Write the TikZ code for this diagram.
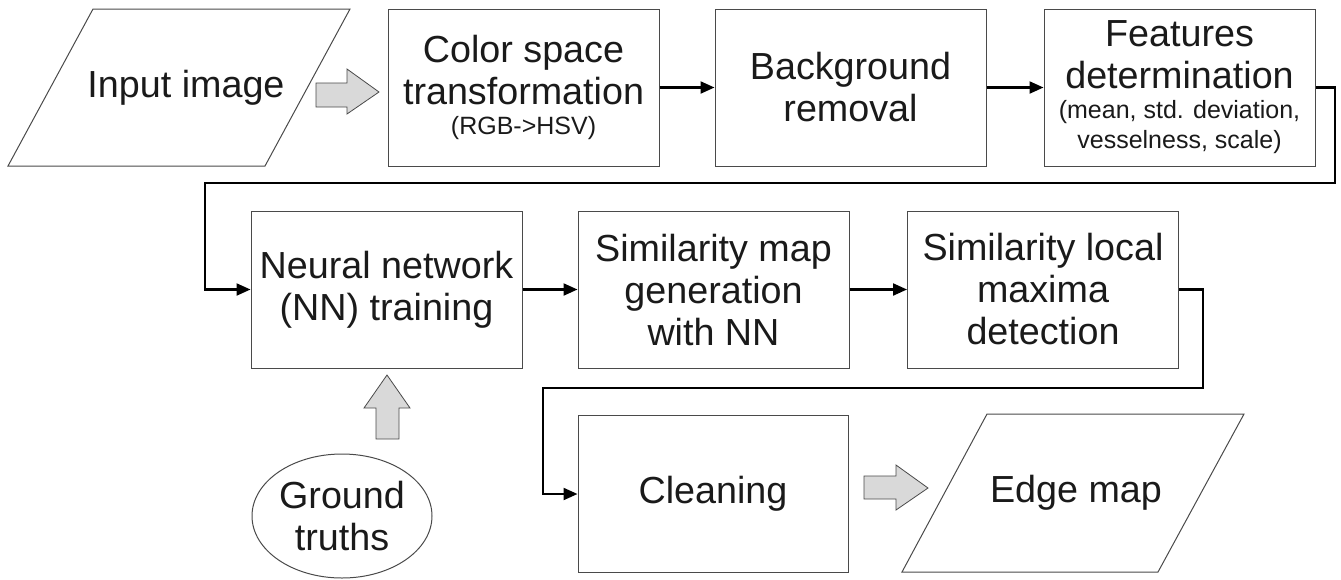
\documentclass[tikz,border=0pt]{standalone}
\usepackage{fontspec}
\setmainfont{Liberation Sans}
\usetikzlibrary{arrows.meta,shapes.geometric}
\definecolor{boxline}{HTML}{4A4A4A}
\definecolor{txt}{HTML}{1A1A1A}
\definecolor{blockfill}{HTML}{D9D9D9}
\begin{document}
\begin{tikzpicture}[x=1pt,y=-1pt,
  bigtext/.style={font=\fontsize{37.7}{42}\selectfont, text=txt, align=center},
  procbox/.style={bigtext, draw=boxline, line width=1pt, minimum width=271pt, minimum height=157pt, inner sep=0pt},
  conn/.style={draw=black, line width=2.2pt, -{Triangle[length=14pt,width=12pt]}},
  blockarrow/.style={draw=boxline, fill=blockfill, line width=0.8pt, line join=miter}]
\useasboundingbox (0,0) rectangle (1341,579);
% input parallelogram
\draw[draw=boxline, line width=1pt] (93,9) -- (350,9) -- (265,166) -- (8,166) -- cycle;
\node[bigtext] (in) at (186,87.5) {Input image};
% row 1
\node[procbox] (b1) at (523.5,87.5) {Color space\\transformation\\[-12pt]{\fontsize{25}{30}\selectfont (RGB->HSV)}};
\node[procbox] (b2) at (850.5,87.5) {Background\\removal};
\node[procbox] (b3) at (1179.5,87.5) {Features\\determination\\[-12pt]{\fontsize{25}{30}\selectfont (mean, std. deviation,}\\[-12pt]{\fontsize{25}{30}\selectfont vesselness, scale)}};
% row 2
\node[procbox] (b4) at (386.5,289.5) {Neural network\\(NN) training};
\node[procbox] (b5) at (713.5,289.5) {Similarity map\\generation\\with NN};
\node[procbox] (b6) at (1043,289.5) {Similarity local\\maxima\\detection};
% row 3
\node[procbox, minimum width=270pt] (b7) at (713,494) {Cleaning};
\draw[draw=boxline, line width=1pt] (987,414) -- (1244,414) -- (1158,572) -- (902,572) -- cycle;
\node[bigtext] (out) at (1076,493) {Edge map};
\node[bigtext, draw=boxline, line width=1pt, ellipse, minimum width=180pt, minimum height=124pt, inner sep=0pt] (gt) at (342,516) {Ground\\truths};
% connectors
\coordinate (c1) at (1335,183);
\coordinate (c2) at (205,183);
\coordinate (c3) at (1203,388);
\coordinate (c4) at (543,388);
\draw[conn] (b1.east) -- (b2.west);
\draw[conn] (b2.east) -- (b3.west);
\draw[conn] (b3.east) -| (c1) -- (c2) |- (b4.west);
\draw[conn] (b4.east) -- (b5.west);
\draw[conn] (b5.east) -- (b6.west);
\draw[conn] (b6.east) -| (c3) -- (c4) |- (b7.west);
% block arrows
\draw[blockarrow] (316,83) -- (347,83) -- (347,69) -- (379,92) -- (347,114) -- (347,107) -- (316,107) -- cycle;
\draw[blockarrow] (864,476) -- (896,476) -- (896,465) -- (928,488) -- (896,510) -- (896,499) -- (864,499) -- cycle;
\draw[blockarrow] (376,439) -- (376,408) -- (364,408) -- (387,375) -- (410,408) -- (399,408) -- (399,439) -- cycle;
\end{tikzpicture}
\end{document}
